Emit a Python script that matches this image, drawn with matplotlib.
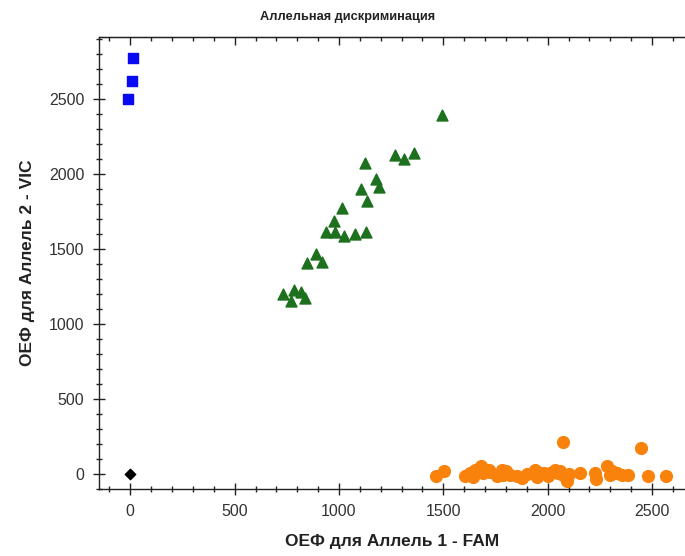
import matplotlib
matplotlib.use("Agg")
import matplotlib.pyplot as plt
from matplotlib.ticker import MultipleLocator

plt.rcParams['font.family'] = ['Liberation Sans', 'DejaVu Sans']

# Allele 2 (VIC) homozygotes
vic_x = [14, 10, -10]
vic_y = [2775, 2622, 2502]

# heterozygotes
het_x = [1493, 1268, 1312, 1360, 1124, 1175, 1193, 1106, 1132, 1013, 977, 937,
         980, 1022, 1075, 1129, 890, 846, 918, 730, 785, 818, 771, 838]
het_y = [2395, 2129, 2100, 2140, 2073, 1967, 1917, 1900, 1822, 1771, 1689, 1617,
         1617, 1589, 1602, 1617, 1467, 1407, 1413, 1202, 1224, 1217, 1151, 1173]

# Allele 1 (FAM) homozygotes
fam_x = [1464, 1505, 1604, 1628, 1652, 1681, 1692, 1726, 1756, 1780, 1788, 1820,
         1852, 1876, 1940, 1948, 1980, 2011, 2035, 2051, 2075, 2072, 2092, 2155,
         2227, 2232, 2283, 2298, 2330, 2354, 2386, 2445, 2479, 2566,
         1640, 1720, 1800, 1900, 1965, 2000, 2060, 2100, 2310]
fam_y = [-15, 17, -15, 7, 29, 55, 7, 11, -15, 29, -5, -5,
         -15, -27, 29, -20, 7, 7, 29, 7, -5, 211, -49, 7,
         7, -33, 51, -5, 7, -5, -5, 173, -15, -15,
         -20, 30, 20, 0, 10, -10, 20, 0, 20]

# no template control
ntc_x = [0]
ntc_y = [0]

fig = plt.figure(figsize=(6.85, 5.56), dpi=100)
ax = fig.add_axes([0.1445, 0.1205, 0.8555, 0.813])

ax.scatter(vic_x, vic_y, marker='s', s=62, color='#0a0af0', zorder=3)
ax.scatter(het_x, het_y, marker='^', s=62, color='#1d701d', zorder=3)
ax.scatter(fam_x, fam_y, marker='o', s=72, color='#f8820c', zorder=3)
ax.scatter(ntc_x, ntc_y, marker='D', s=28, color='black', zorder=3)

ax.set_xlim(-150, 2658)
ax.set_ylim(-100, 2915)

ax.xaxis.set_major_locator(MultipleLocator(500))
ax.xaxis.set_minor_locator(MultipleLocator(100))
ax.yaxis.set_major_locator(MultipleLocator(500))
ax.yaxis.set_minor_locator(MultipleLocator(100))

ax.spines['right'].set_visible(False)
for s in ['left', 'bottom', 'top']:
    ax.spines[s].set_linewidth(1.0)
    ax.spines[s].set_color('#222222')

ax.tick_params(axis='both', which='major', direction='inout', length=9,
               width=1, color='#222222', labelsize=11.5, labelcolor='#333333', pad=6)
ax.tick_params(axis='both', which='minor', direction='inout', length=5,
               width=1, color='#222222')

top = ax.secondary_xaxis('top')
top.xaxis.set_major_locator(MultipleLocator(500))
top.xaxis.set_minor_locator(MultipleLocator(100))
top.tick_params(which='major', direction='in', length=6, width=1, color='#222222',
                labeltop=False)
top.tick_params(which='minor', direction='in', length=3, width=1, color='#222222')

ax.set_xlabel('ОЕФ для Аллель 1 - FAM', fontsize=12.5, fontweight='bold',
              color='#222222', labelpad=11)
ax.set_ylabel('ОЕФ для Аллель 2 - VIC', fontsize=12.5, fontweight='bold',
              color='#222222', labelpad=10)
fig.text(0.508, 0.969, 'Аллельная дискриминация', ha='center', va='center',
         fontsize=9.2, fontweight='bold', color='#222222')

fig.savefig('out.png', dpi=100)
